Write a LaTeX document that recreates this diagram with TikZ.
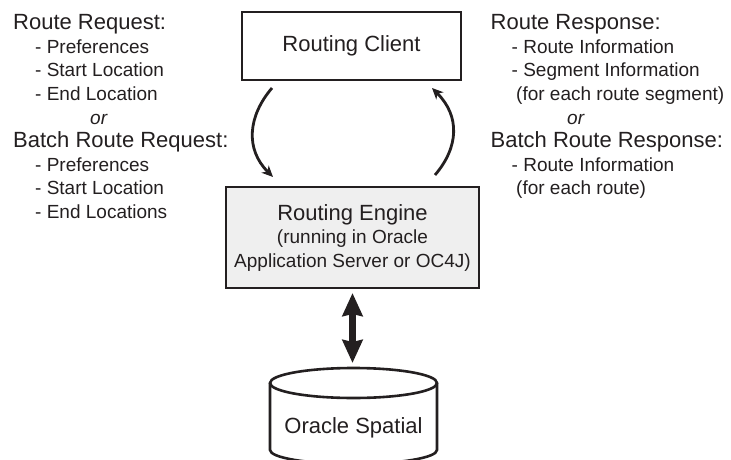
\documentclass[tikz,border=0pt]{standalone}
\usepackage{fontspec}
\setmainfont{Liberation Sans}
\usetikzlibrary{arrows.meta, calc}

\definecolor{ink}{HTML}{231F20}
\definecolor{enginefill}{HTML}{EFEFEF}

\begin{document}
\begin{tikzpicture}[
  x=1pt, y=-1pt,
  box/.style={rectangle, draw=ink, line width=2.6pt, outer sep=0pt,
    text=ink, font=\fontsize{22}{23.5}\selectfont},
  head/.style={anchor=base west, inner sep=0pt, text=ink,
    font=\fontsize{22}{26}\selectfont},
  item/.style={anchor=base west, inner sep=0pt, text=ink,
    font=\fontsize{19}{23}\selectfont},
  orword/.style={item, font=\fontsize{19}{23}\selectfont\itshape},
  flow/.style={-{Stealth[length=11pt, width=10pt, inset=3pt]},
    line width=2.8pt, draw=ink},
  dbarrow/.style={{Stealth[length=23pt, width=20pt, inset=2pt]}-{Stealth[length=23pt, width=20pt, inset=2pt]},
    line width=6.5pt, draw=ink}
]
\clip (0,0) rectangle (731,460);

% boxes
\node[box, minimum width=219pt, minimum height=68pt] (client) at (351.5,46)
  {Routing Client};
\node[box, fill=enginefill, minimum width=253pt, minimum height=101pt,
  align=center, font=\fontsize{19}{23.5}\selectfont] (engine) at (352.5,237.5)
  {{\fontsize{22}{23.5}\selectfont Routing Engine}\\(running in Oracle\\Application Server or OC4J)};

% database
\draw[line width=2.6pt, draw=ink] (270,383) -- (270,450)
  arc[start angle=180, end angle=0, x radius=83.5, y radius=14] -- (437,383);
\draw[line width=2.6pt, draw=ink] (353.5,383) ellipse [x radius=83.5, y radius=15];
\coordinate (dbtop) at (352.5,368);
\node[text=ink, font=\fontsize{22}{26}\selectfont] (db) at (353.5,428) {Oracle Spatial};

% request side
\node[head]   (req)   at (13,30)     {Route Request:};
\node[item]   (req1)  at (35,53.5)   {- Preferences};
\node[item]   (req2)  at (35,77)     {- Start Location};
\node[item]   (req3)  at (35,100.5)  {- End Location};
\node[orword] (reqor) at (90,124)    {or};
\node[head]   (breq)  at (13,147.5)  {Batch Route Request:};
\node[item]   (breq1) at (35,171)    {- Preferences};
\node[item]   (breq2) at (35,194.5)  {- Start Location};
\node[item]   (breq3) at (35,218)    {- End Locations};

% response side
\node[head]   (resp)   at (490.5,30)    {Route Response:};
\node[item]   (resp1)  at (511.5,53.5)  {- Route Information};
\node[item]   (resp2)  at (511.5,77)    {- Segment Information};
\node[item]   (resp3)  at (516,100.5)   {(for each route segment)};
\node[orword] (respor) at (567,124)     {or};
\node[head]   (bresp)  at (490.5,147.5) {Batch Route Response:};
\node[item]   (bresp1) at (511.5,171)   {- Route Information};
\node[item]   (bresp2) at (516,194.5)   {(for each route)};

% arrows
\draw[flow] ($(client.south west)+(30,8)$)
  .. controls +(-24,28) and +(-28,-28) .. ($(engine.north west)+(47,-10)$);
\draw[flow] ($(engine.north east)+(-44,-12)$)
  .. controls +(24,-28) and +(28,28) .. ($(client.south east)+(-29,8)$);
\draw[dbarrow, shorten <=5pt, shorten >=5pt] (engine.south) -- (dbtop);

\end{tikzpicture}
\end{document}
